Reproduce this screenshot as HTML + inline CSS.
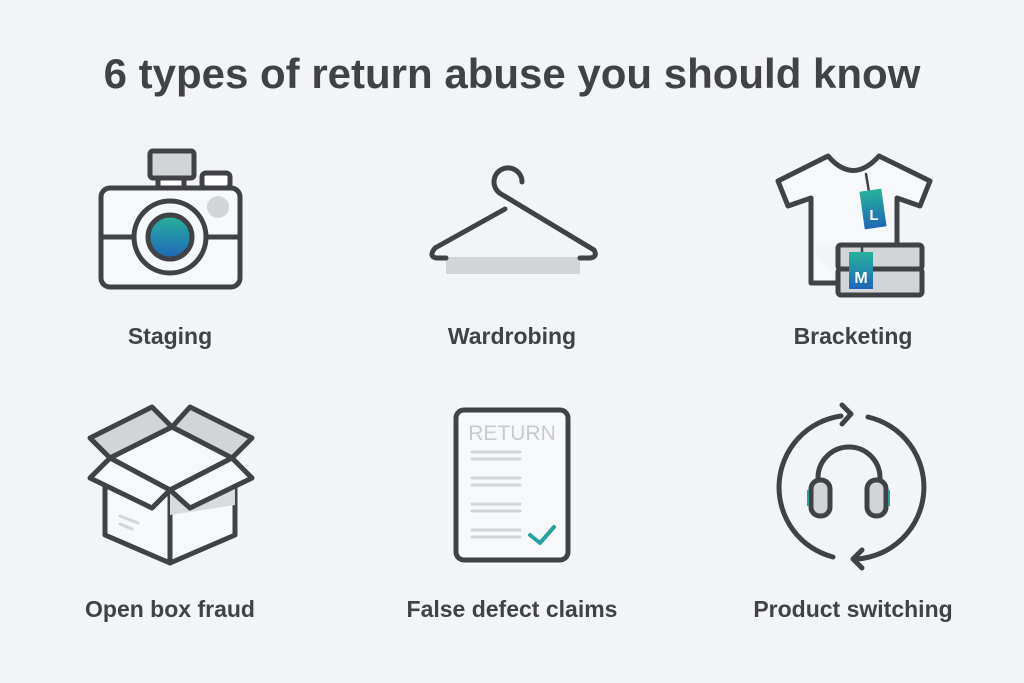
<!DOCTYPE html>
<html><head><style>
html,body{margin:0;padding:0;background:#f3f4f8;}
svg{display:block}
text{font-family:"Liberation Sans",sans-serif;fill:#404247}
</style></head><body>
<svg width="1024" height="683" viewBox="0 0 1024 683">
<defs>
<linearGradient id="g" x1="0" y1="0" x2="0" y2="1"><stop offset="0" stop-color="#27b39b"/><stop offset="1" stop-color="#1d66b8"/></linearGradient>
</defs>
<rect width="1024" height="683" fill="#f3f4f8"/>
<text x="512" y="88" font-size="42" font-weight="bold" text-anchor="middle">6 types of return abuse you should know</text>
<g font-size="23" font-weight="bold" text-anchor="middle">
<text x="170" y="344">Staging</text>
<text x="512" y="344">Wardrobing</text>
<text x="853" y="344">Bracketing</text>
<text x="170" y="617">Open box fraud</text>
<text x="512" y="617">False defect claims</text>
<text x="853" y="617">Product switching</text>
</g>
<g stroke="#404247" stroke-width="5" stroke-linejoin="round" stroke-linecap="round" fill="none">
<!-- camera -->
<rect x="150" y="151" width="44" height="27" rx="3" fill="#d2d4d6"/>
<rect x="158" y="178" width="26" height="10" fill="#fff"/>
<rect x="202" y="173" width="28" height="15" rx="4" fill="#fff"/>
<rect x="101" y="188" width="139" height="99" rx="9" fill="#f7f8fa"/>
<line x1="101" y1="237" x2="240" y2="237"/>
<circle cx="170" cy="237" r="36" fill="#f7f8fa"/>
<circle cx="170" cy="237" r="22" fill="url(#g)"/>
<circle cx="218" cy="207" r="11" fill="#d2d4d6" stroke="none"/>
<!-- hanger -->
<rect x="446" y="257" width="134" height="17" fill="#d2d4d6" stroke="none"/>
<path d="M522,182 A14,14 0 1 0 501,194 L594,250 Q598,257 590,258 L580,258"/>
<path d="M505,209 L435,248 Q428,257 437,258 L446,258"/>
<!-- shirt -->
<path d="M811,245 L811,283 L838,283 M897,245 L897,198 L920,206 L930,181 L879,156 Q853,185 828,156 L778,181 L788,206 L811,198 L811,245" fill="#f7f8fa"/>
<rect x="838" y="245" width="84" height="24" rx="3" fill="#d2d4d6"/>
<rect x="838" y="269" width="84" height="26" rx="3" fill="#d2d4d6"/>
<line x1="866" y1="174" x2="869" y2="192" stroke-width="2.5"/>
<line x1="862" y1="245" x2="862" y2="253" stroke-width="2.5"/>
</g>
<g transform="rotate(-8 873 209)"><rect x="862" y="190" width="22" height="38" fill="url(#g)"/></g>
<text x="874" y="220" font-size="15" font-weight="bold" text-anchor="middle" style="fill:#fff">L</text>
<rect x="849" y="252" width="24" height="37" fill="url(#g)"/>
<text x="861" y="283" font-size="16" font-weight="bold" text-anchor="middle" style="fill:#fff">M</text>
<g stroke="#404247" stroke-width="5" stroke-linejoin="round" stroke-linecap="round" fill="none">
<!-- box -->
<path d="M105,487 L105,535 L170,563 L235,535 L235,487" fill="#f7f8fa"/>
<path d="M170,490 L170,563"/>
<polygon points="170,490 235,487 235,505 170,515" fill="#d9dadc" stroke="none"/>
<polygon points="90,438 152,407 172,427 110,458" fill="#d2d4d6"/>
<polygon points="172,427 190,407 252,438 232,458" fill="#d2d4d6"/>
<polygon points="172,427 232,458 170,490 110,458" fill="#f7f8fa"/>
<polygon points="110,458 90,478 152,508 170,490" fill="#f7f8fa"/>
<polygon points="232,458 252,478 190,508 170,490" fill="#f7f8fa"/>
<line x1="120" y1="516" x2="138" y2="523" stroke="#d2d4d6" stroke-width="3"/>
<line x1="120" y1="524" x2="132" y2="529" stroke="#d2d4d6" stroke-width="3"/>
<!-- document -->
<rect x="456" y="410" width="112" height="150" rx="8" fill="#f7f8fa"/>
<g stroke="#d2d4d6" stroke-width="3">
<line x1="472" y1="452" x2="520" y2="452"/><line x1="472" y1="459" x2="520" y2="459"/>
<line x1="472" y1="478" x2="520" y2="478"/><line x1="472" y1="485" x2="520" y2="485"/>
<line x1="472" y1="504" x2="520" y2="504"/><line x1="472" y1="511" x2="520" y2="511"/>
<line x1="472" y1="530" x2="520" y2="530"/><line x1="472" y1="537" x2="520" y2="537"/>
</g>
<path d="M530,535 L540,543 L554,527" stroke="#2a9fa0" stroke-width="4"/>
<!-- product switching -->
<path d="M841,416 A72,72 0 0 0 833,557"/>
<path d="M868,417 A72,72 0 0 1 857,559"/>
<path d="M842,405 L851,414 L842,424"/>
<path d="M862,550 L853,559 L862,568"/>
<path d="M818,484 L818,478 A31,31 0 0 1 880,478 L880,484"/>
<rect x="811" y="480" width="19" height="36" rx="9" fill="#d2d4d6"/>
<rect x="867" y="480" width="19" height="36" rx="9" fill="#d2d4d6"/>
</g>
<line x1="808" y1="490" x2="808" y2="506" stroke="#2a9fa0" stroke-width="2"/>
<line x1="889" y1="490" x2="889" y2="506" stroke="#2a9fa0" stroke-width="2"/>
<text x="512" y="440" font-size="21" text-anchor="middle" style="fill:#c8cacc">RETURN</text>
</svg>
</body></html>
